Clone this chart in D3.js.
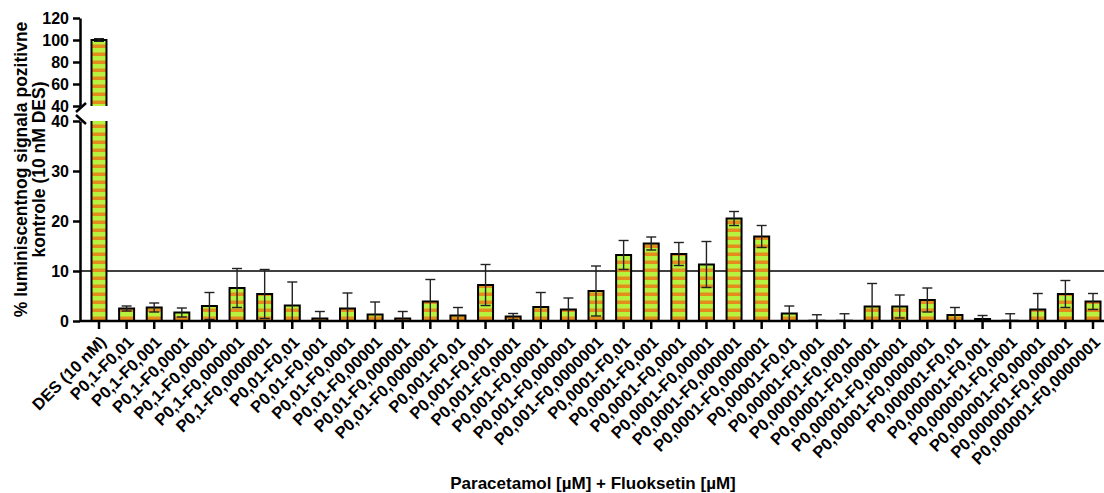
<!DOCTYPE html>
<html>
<head>
<meta charset="utf-8">
<script src="https://cdn.jsdelivr.net/npm/d3@7"></script>
<style>
  body { margin: 0; background: #fff; }
  svg text { font-family: "Liberation Sans", Arial, sans-serif; font-weight: bold; fill: #000; }
</style>
</head>
<body>
<div id="viz-container"></div>
<script>
// data
let categories = [
  "DES (10 nM)",
  "P0,1-F0,01", "P0,1-F0,001", "P0,1-F0,0001", "P0,1-F0,00001", "P0,1-F0,000001", "P0,1-F0,0000001",
  "P0,01-F0,01", "P0,01-F0,001", "P0,01-F0,0001", "P0,01-F0,00001", "P0,01-F0,000001", "P0,01-F0,0000001",
  "P0,001-F0,01", "P0,001-F0,001", "P0,001-F0,0001", "P0,001-F0,00001", "P0,001-F0,000001", "P0,001-F0,0000001",
  "P0,0001-F0,01", "P0,0001-F0,001", "P0,0001-F0,0001", "P0,0001-F0,00001", "P0,0001-F0,000001", "P0,0001-F0,0000001",
  "P0,00001-F0,01", "P0,00001-F0,001", "P0,00001-F0,0001", "P0,00001-F0,00001", "P0,00001-F0,000001", "P0,00001-F0,0000001",
  "P0,000001-F0,01", "P0,000001-F0,001", "P0,000001-F0,0001", "P0,000001-F0,00001", "P0,000001-F0,000001", "P0,000001-F0,0000001"
];
let means = [100, 2.5, 2.7, 1.7, 3.0, 6.6, 5.4, 3.1, 0.5, 2.5, 1.3, 0.5, 3.9, 1.1, 7.2, 0.9, 2.8, 2.3, 6.0,
  13.2, 15.5, 13.4, 11.3, 20.5, 16.9, 1.5, 0.05, 0.05, 2.9, 2.9, 4.2, 1.2, 0.4, 0.05, 2.3, 5.4, 3.9];
let errs = [1.2, 0.5, 0.9, 0.9, 2.7, 3.9, 4.9, 4.7, 1.4, 3.1, 2.5, 1.4, 4.4, 1.6, 4.1, 0.6, 2.9, 2.3, 5.0,
  2.9, 1.3, 2.3, 4.6, 1.4, 2.2, 1.5, 1.2, 1.4, 4.6, 2.3, 2.4, 1.5, 0.7, 1.4, 3.2, 2.7, 1.6];
let lowTicks = [0, 10, 20, 30, 40];
let highTicks = [40, 60, 80, 100, 120];
let refLine = 10;
let xTitle = "Paracetamol [\u00b5M] + Fluoksetin [\u00b5M]";
let yTitle = ["% luminiscentnog signala pozitivne", "kontrole (10 nM DES)"];

let w = 1104, h = 493;
let axisX = 80;
let green = "#b6f23e", orange = "#e48c1c";

let viz = d3.select("#viz-container").append("svg")
    .attr("width", w).attr("height", h);

let defs = viz.append("defs");
let pat = defs.append("pattern").attr("id", "stripes")
    .attr("patternUnits", "userSpaceOnUse")
    .attr("width", 20).attr("height", 8);
pat.append("rect").attr("width", 20).attr("height", 8).attr("fill", green);
pat.append("rect").attr("y", 4.5).attr("width", 20).attr("height", 3.5).attr("fill", orange);

let data = categories.map((c, i) => ({cat: c, v: means[i], e: errs[i]}));

let xScale = d3.scaleBand().domain(categories)
    .range([85.2, 1106.8]).paddingInner(0.457).paddingOuter(0.228);
let yLow = d3.scaleLinear().domain([0, 40]).range([321, 121]);
let yHigh = d3.scaleLinear().domain([40, 120]).range([106, 18]);

// y axes (broken)
let yLowAxis = viz.append("g").attr("transform", "translate(" + axisX + ",0)")
    .call(d3.axisLeft(yLow).tickValues(lowTicks).tickSize(7).tickSizeOuter(0).tickPadding(4));
let yHighAxis = viz.append("g").attr("transform", "translate(" + axisX + ",0)")
    .call(d3.axisLeft(yHigh).tickValues(highTicks).tickSize(7).tickSizeOuter(0).tickPadding(4));
[yLowAxis, yHighAxis].forEach(g => {
  g.selectAll("path,line").attr("stroke", "#000").attr("stroke-width", 2.5);
  g.selectAll("text").style("font-size", "16px");
});
// break marks
viz.append("line").attr("x1", 76).attr("y1", 112).attr("x2", 86).attr("y2", 103)
    .attr("stroke", "#000").attr("stroke-width", 2.5);
viz.append("line").attr("x1", 76).attr("y1", 115).attr("x2", 86).attr("y2", 124)
    .attr("stroke", "#000").attr("stroke-width", 2.5);

// reference line at 10
viz.append("line").attr("x1", axisX).attr("x2", w)
    .attr("y1", yLow(refLine)).attr("y2", yLow(refLine))
    .attr("stroke", "#000").attr("stroke-width", 1.5);

// bars
let bw = xScale.bandwidth();
data.forEach(d => {
  let x0 = xScale(d.cat);
  if (d.v > 40) {
    // broken bar: upper piece and lower piece
    viz.append("rect").attr("x", x0).attr("width", bw)
        .attr("y", yHigh(d.v)).attr("height", yHigh(40) - yHigh(d.v))
        .attr("fill", "url(#stripes)");
    viz.append("rect").attr("x", x0).attr("width", bw)
        .attr("y", yLow(40)).attr("height", yLow(0) - yLow(40))
        .attr("fill", "url(#stripes)");
    let p = d3.path();
    p.moveTo(x0, yHigh(40)); p.lineTo(x0, yHigh(d.v)); p.lineTo(x0 + bw, yHigh(d.v)); p.lineTo(x0 + bw, yHigh(40));
    p.moveTo(x0, yLow(40)); p.lineTo(x0, yLow(0)); p.moveTo(x0 + bw, yLow(40)); p.lineTo(x0 + bw, yLow(0));
    viz.append("path").attr("d", p.toString()).attr("fill", "none")
        .attr("stroke", "#000").attr("stroke-width", 2);
  } else {
    viz.append("rect").attr("x", x0).attr("width", bw)
        .attr("y", yLow(d.v)).attr("height", yLow(0) - yLow(d.v))
        .attr("fill", "url(#stripes)")
        .attr("stroke", "#000").attr("stroke-width", 2);
  }
});

// error bars
let cap = 5;
data.forEach(d => {
  let cx = xScale(d.cat) + bw / 2;
  let ys = d.v > 40 ? yHigh : yLow;
  let top = ys(d.v + d.e);
  let lowVal = Math.max(0, d.v - d.e);
  let bot = ys(lowVal);
  let g = viz.append("g").attr("stroke", "#222").attr("stroke-width", 1.4);
  g.append("line").attr("x1", cx).attr("x2", cx).attr("y1", top).attr("y2", bot);
  g.append("line").attr("x1", cx - cap).attr("x2", cx + cap).attr("y1", top).attr("y2", top);
  if (lowVal > 0) {
    g.append("line").attr("x1", cx - cap).attr("x2", cx + cap).attr("y1", bot).attr("y2", bot);
  }
});

// x axis
let xAxisGroup = viz.append("g").attr("transform", "translate(0," + yLow(0) + ")")
    .call(d3.axisBottom(xScale).tickSize(8).tickSizeOuter(0).tickFormat(""));
xAxisGroup.select(".domain").attr("d", "M" + axisX + ",0H" + w);
xAxisGroup.selectAll("path,line").attr("stroke", "#000").attr("stroke-width", 2.5);

// x tick labels
viz.append("g").selectAll("text").data(categories).enter()
  .append("text")
    .attr("transform", d => "translate(" + (xScale(d) + bw / 2) + ",335) rotate(-45)")
    .attr("text-anchor", "end")
    .attr("dy", "0.7em")
    .style("font-size", "16.5px")
    .text(d => d);

// axis titles
viz.append("text").attr("x", (axisX + w) / 2 + 1).attr("y", 489)
    .attr("text-anchor", "middle").style("font-size", "17px").text(xTitle);
yTitle.forEach((t, i) => {
  viz.append("text")
    .attr("transform", "translate(" + (27 + i * 18) + "," + ((yLow(0) + yHigh(120)) / 2) + ") rotate(-90)")
    .attr("text-anchor", "middle").style("font-size", "17.5px").text(t);
});
</script>
</body>
</html>
